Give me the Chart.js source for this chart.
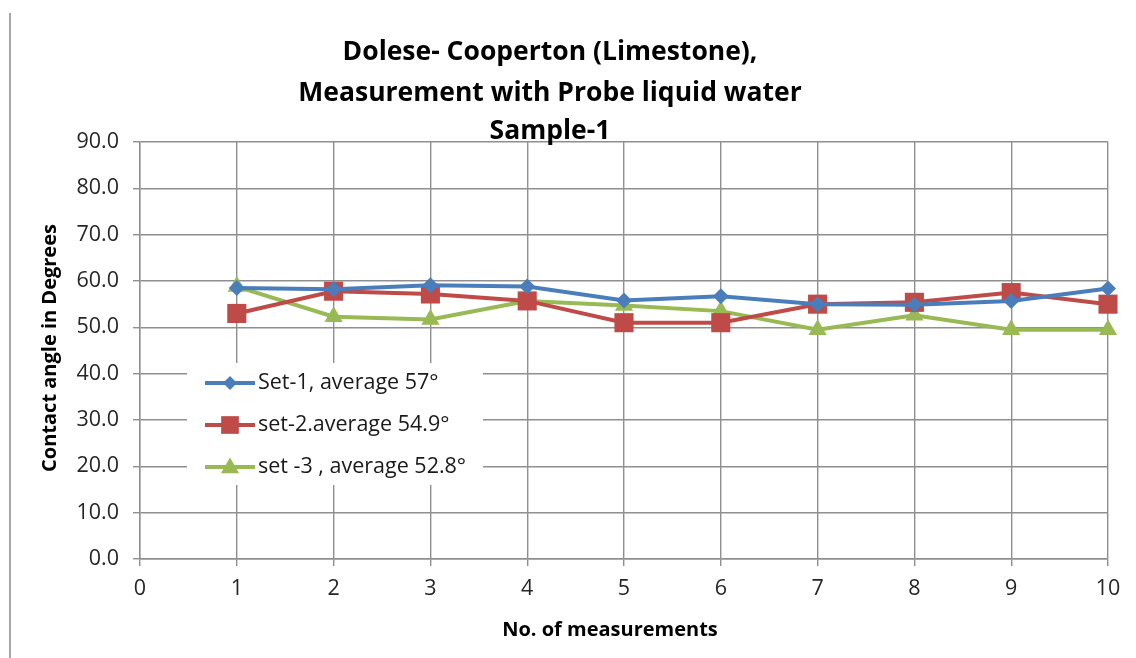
<!DOCTYPE html>
<html>
<head>
<meta charset="utf-8">
<script src="https://cdn.jsdelivr.net/npm/chart.js@4/dist/chart.umd.min.js"></script>
<style>
  html, body { margin:0; padding:0; background:#fff; }
  #wrap { position:relative; width:1136px; height:658px; }
</style>
</head>
<body>
<div id="wrap"><canvas id="c" width="1136" height="658"></canvas></div>
<script>
/* ---- data ---- */
const measurements = [1, 2, 3, 4, 5, 6, 7, 8, 9, 10];
const set1 = [58.5, 58.2, 59.1, 58.8, 55.8, 56.7, 55.0, 54.9, 55.7, 58.4];
const set2 = [53.0, 57.8, 57.2, 55.7, 51.0, 51.0, 55.0, 55.4, 57.5, 55.0];
const set3 = [58.8, 52.3, 51.7, 55.7, 54.7, 53.5, 49.5, 52.6, 49.5, 49.5];
const seriesLabels = ['Set-1, average 57°', 'set-2.average 54.9°', 'set -3 , average 52.8°'];
const titleLines = ['Dolese- Cooperton (Limestone),', 'Measurement with Probe liquid water', 'Sample-1'];
const xTitle = 'No. of measurements';
const yTitle = 'Contact angle in Degrees';

const FONT = "'Open Sans', 'Liberation Sans', sans-serif";
const GRID = '#8f8f8f';
const cols = ['#4A7EBB', '#BE4B48', '#98B954'];

const toXY = vals => vals.map((v, i) => ({ x: measurements[i], y: v }));

/* marker shapes, same look as chart points */
function marker(ctx, style, x, y, r) {
  ctx.beginPath();
  if (style === 'rectRot') {
    ctx.moveTo(x - r, y); ctx.lineTo(x, y - r); ctx.lineTo(x + r, y); ctx.lineTo(x, y + r);
  } else if (style === 'rect') {
    const s = Math.SQRT1_2 * r;
    ctx.rect(x - s, y - s, 2 * s, 2 * s);
  } else {
    ctx.moveTo(x, y - r); ctx.lineTo(x + r * 0.866, y + r / 2); ctx.lineTo(x - r * 0.866, y + r / 2);
  }
  ctx.closePath();
  ctx.fill();
}

/* titles, frame line, legend box */
const decor = {
  id: 'decor',
  afterDraw(chart) {
    const ctx = chart.ctx;
    ctx.save();
    // left frame edge
    ctx.strokeStyle = '#a6a6a6'; ctx.lineWidth = 2;
    ctx.beginPath(); ctx.moveTo(10, 13); ctx.lineTo(10, 658); ctx.stroke();

    // title
    ctx.fillStyle = '#000';
    ctx.textAlign = 'center'; ctx.textBaseline = 'alphabetic';
    ctx.font = `bold 26.5px ${FONT}`;
    [60, 101, 139].forEach((y, i) => ctx.fillText(titleLines[i], 550, y));

    // axis titles
    ctx.font = `bold 20px ${FONT}`;
    ctx.textBaseline = 'middle';
    ctx.fillText(xTitle, 610, 630);
    ctx.translate(50, 348); ctx.rotate(-Math.PI / 2);
    ctx.fillText(yTitle, 0, 0);
    ctx.restore();
  },
  afterDatasetsDraw(chart) {
    const ctx = chart.ctx;
    ctx.save();
    ctx.fillStyle = '#fff';
    ctx.fillRect(187, 363, 296, 122);
    const rows = [383, 425, 467];
    chart.data.datasets.forEach((ds, i) => {
      const y = rows[i];
      ctx.strokeStyle = ds.borderColor; ctx.lineWidth = 4;
      ctx.beginPath(); ctx.moveTo(205, y); ctx.lineTo(255, y); ctx.stroke();
      ctx.fillStyle = ds.backgroundColor;
      marker(ctx, ds.pointStyle, 230, y + (ds.pointStyle === 'triangle' ? 1 : 0), ds.legendRadius);
      ctx.fillStyle = '#1a1a1a';
      ctx.font = `21.5px ${FONT}`;
      ctx.textAlign = 'left'; ctx.textBaseline = 'middle';
      ctx.fillText(ds.label, 258, y);
    });
    ctx.restore();
  }
};

const mkSet = (i, data, style, r, lr) => ({
  label: seriesLabels[i],
  data: toXY(data),
  borderColor: cols[i],
  backgroundColor: cols[i],
  borderWidth: 4,
  pointStyle: style,
  pointRadius: r,
  pointBorderWidth: 0,
  legendRadius: lr,
  tension: 0,
  clip: false
});

new Chart(document.getElementById('c'), {
  type: 'line',
  data: {
    datasets: [
      mkSet(0, set1, 'rectRot', 8, 7),
      mkSet(1, set2, 'rect', 13.5, 12.5),
      mkSet(2, set3, 'triangle', 10.5, 10.5)
    ]
  },
  plugins: [decor],
  options: {
    responsive: false,
    animation: false,
    events: [],
    layout: { padding: { left: 0, top: 142, right: 28, bottom: 0 } },
    plugins: { legend: { display: false }, title: { display: false }, tooltip: { enabled: false } },
    scales: {
      x: {
        type: 'linear', min: 0, max: 10,
        ticks: { stepSize: 1, color: '#262626', font: { family: FONT, size: 21.5 }, padding: 10 },
        grid: { color: GRID, lineWidth: 1.4, tickLength: 7 },
        border: { color: GRID, width: 1.4 },
        afterFit: s => { s.height = 99; }
      },
      y: {
        min: 0, max: 90,
        ticks: { stepSize: 10, color: '#262626', font: { family: FONT, size: 21.5 }, padding: 14,
                 callback: v => v.toFixed(1) },
        grid: { color: GRID, lineWidth: 1.4, tickLength: 7 },
        border: { color: GRID, width: 1.4 },
        afterFit: s => { s.width = 140; }
      }
    }
  }
});
</script>
</body>
</html>
